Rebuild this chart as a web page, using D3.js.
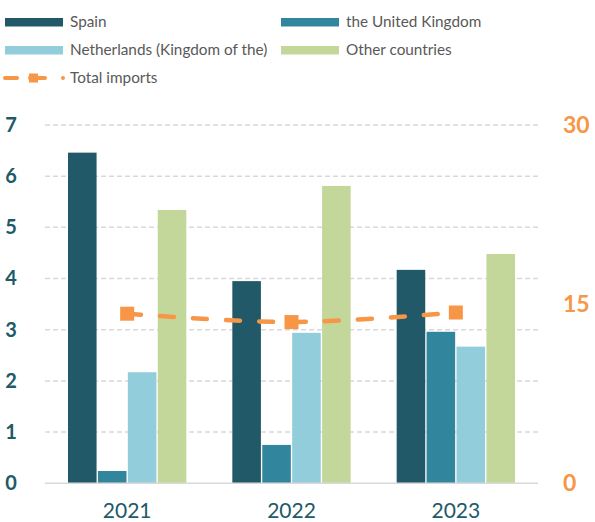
<!DOCTYPE html>
<html>
<head>
<meta charset="utf-8">
<script src="https://cdn.jsdelivr.net/npm/d3@7"></script>
<style>
  body { margin: 0; background: #fff; }
  text { font-family: Lato, "Open Sans", sans-serif; }
</style>
</head>
<body>
<div id="app"></div>
<script>
// data
const years = ["2021", "2022", "2023"];
const seriesNames = ["Spain", "the United Kingdom", "Netherlands (Kingdom of the)", "Other countries"];
const spain = [6.46, 3.95, 4.17];
const uk = [0.24, 0.75, 2.96];
const netherlands = [2.17, 2.94, 2.67];
const others = [5.34, 5.81, 4.48];
const totalImports = [14.2, 13.5, 14.3];
const leftTicks = [0, 1, 2, 3, 4, 5, 6, 7];
const rightTicks = [0, 15, 30];

const colors = ["#215968", "#31859C", "#92CDDC", "#C4D79B"];
const orange = "#F79646";

const seriesVals = [spain, uk, netherlands, others];
const rows = [];
years.forEach((yr, i) => {
    seriesNames.forEach((s, j) => rows.push({year: yr, series: s, value: seriesVals[j][i]}));
});

const W = 595, H = 522;
const svg = d3.select("#app").append("svg")
    .attr("width", W)
    .attr("height", H);

const plotLeft = 45, plotRight = 538, plotTop = 125, plotBottom = 483.3;

let x0 = d3.scaleBand()
    .domain(years)
    .range([plotLeft, plotRight])
    .padding(0);

let x1 = d3.scaleBand()
    .domain(seriesNames)
    .range([23, x0.bandwidth() - 23])
    .paddingInner(0.045);

let y = d3.scaleLinear().domain([0, 7]).range([plotBottom, plotTop]);
let y2 = d3.scaleLinear().domain([0, 30]).range([plotBottom, plotTop]);

// gridlines
svg.append("g").selectAll("line")
    .data(leftTicks.filter(d => d > 0))
    .enter()
    .append("line")
        .attr("x1", plotLeft)
        .attr("x2", plotRight)
        .attr("y1", d => y(d))
        .attr("y2", d => y(d))
        .attr("stroke", "#D9D9D9")
        .attr("stroke-width", 1.5)
        .attr("stroke-dasharray", "5,3");

// bars
svg.append("g").selectAll("rect")
    .data(rows)
    .enter()
    .append("rect")
        .attr("x", d => x0(d.year) + x1(d.series))
        .attr("y", d => y(d.value))
        .attr("width", x1.bandwidth())
        .attr("height", d => y(0) - y(d.value))
        .attr("fill", d => colors[seriesNames.indexOf(d.series)]);

// baseline
svg.append("line")
    .attr("x1", plotLeft).attr("x2", plotRight)
    .attr("y1", plotBottom).attr("y2", plotBottom)
    .attr("stroke", "#D9D9D9")
    .attr("stroke-width", 1.5);

// left axis
const axL = svg.append("g")
    .attr("transform", "translate(" + plotLeft + ",0)")
    .call(d3.axisLeft(y).tickValues(leftTicks).tickFormat(d3.format("d")).tickSize(0).tickPadding(34));
axL.select(".domain").remove();
axL.selectAll("text")
    .attr("text-anchor", "middle")
    .attr("fill", "#215968")
    .attr("font-weight", "bold")
    .attr("font-size", 20)
    .attr("font-family", "Lato, sans-serif");

// right axis
const axR = svg.append("g")
    .attr("transform", "translate(" + plotRight + ",0)")
    .call(d3.axisRight(y2).tickValues(rightTicks).tickSize(0).tickPadding(25));
axR.select(".domain").remove();
axR.selectAll("text")
    .attr("fill", orange)
    .attr("font-weight", "bold")
    .attr("font-size", 23)
    .attr("font-family", "Lato, sans-serif");

// x axis
const axB = svg.append("g")
    .attr("transform", "translate(0," + plotBottom + ")")
    .call(d3.axisBottom(x0).tickSize(0).tickPadding(20));
axB.select(".domain").remove();
axB.selectAll("text")
    .attr("fill", "#215968")
    .attr("font-size", 21)
    .attr("font-family", "Lato, sans-serif");

// total imports line
const pts = years.map((yr, i) => [x0(yr) + x0.bandwidth() / 2, y2(totalImports[i])]);
svg.append("path")
    .attr("d", d3.line().curve(d3.curveCatmullRom)(pts))
    .attr("fill", "none")
    .attr("stroke", orange)
    .attr("stroke-width", 4.5)
    .attr("stroke-linecap", "round")
    .attr("stroke-dasharray", "14,19");

svg.append("g").selectAll("rect")
    .data(pts)
    .enter()
    .append("rect")
        .attr("x", d => d[0] - 7)
        .attr("y", d => d[1] - 7)
        .attr("width", 14)
        .attr("height", 14)
        .attr("fill", orange);

// legend
const legend = svg.append("g");
const legPos = [[5, 22], [281, 22], [5, 50], [281, 50]];
seriesNames.forEach((s, j) => {
    legend.append("rect")
        .attr("x", legPos[j][0])
        .attr("y", legPos[j][1] - 4)
        .attr("width", 58)
        .attr("height", 8.5)
        .attr("fill", colors[j]);
    legend.append("text")
        .attr("x", legPos[j][0] + 65)
        .attr("y", legPos[j][1])
        .attr("dy", "0.35em")
        .attr("font-size", 15.3)
        .attr("fill", "#595959")
        .text(s);
});
legend.append("line")
    .attr("x1", 5).attr("x2", 17).attr("y1", 78).attr("y2", 78)
    .attr("stroke", orange).attr("stroke-width", 4).attr("stroke-linecap", "round");
legend.append("line")
    .attr("x1", 30).attr("x2", 45).attr("y1", 78).attr("y2", 78)
    .attr("stroke", orange).attr("stroke-width", 4).attr("stroke-linecap", "round");
legend.append("circle")
    .attr("cx", 63).attr("cy", 78).attr("r", 2)
    .attr("fill", orange);
legend.append("rect")
    .attr("x", 29).attr("y", 73.5).attr("width", 9).attr("height", 9)
    .attr("fill", orange);
legend.append("text")
    .attr("x", 70)
    .attr("y", 78)
    .attr("dy", "0.35em")
    .attr("font-size", 15.3)
    .attr("fill", "#595959")
    .text("Total imports");
</script>
</body>
</html>
